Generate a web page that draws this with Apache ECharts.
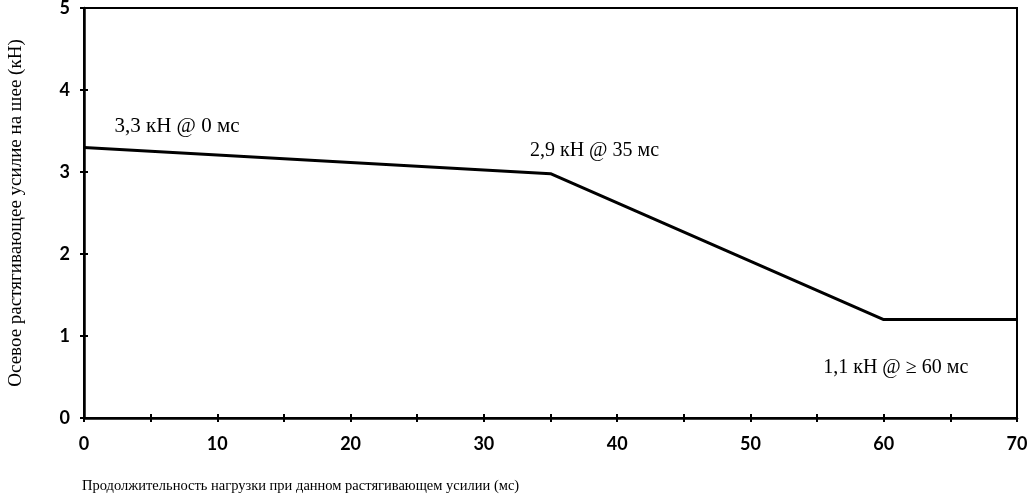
<!DOCTYPE html>
<html><head><meta charset="utf-8">
<script src="https://cdn.jsdelivr.net/npm/echarts@6/dist/echarts.min.js"></script>
<style>html,body{margin:0;padding:0;background:#fff}#c{width:1029px;height:498px}</style>
</head><body><div id="c"></div>
<script>
var timeMs = [0, 35, 60, 70];
var forceKN = [3.3, 2.98, 1.2, 1.2];
var xTicks = [0, 10, 20, 30, 40, 50, 60, 70];
var yTicks = [0, 1, 2, 3, 4, 5];
var notes = [
  {x: 0, y: 3.3, text: '3,3 кН @ 0 мс'},
  {x: 35, y: 2.98, text: '2,9 кН @ 35 мс'},
  {x: 60, y: 1.2, text: '1,1 кН @ ≥ 60 мс'}
];
var noteOffsets = [[93, -21], [44, -23], [12, 48]];

var chart = echarts.init(document.getElementById('c'));
var serif = 'Liberation Serif';
var tickFont = {fontFamily: 'Lato', fontWeight: 'bold', fontSize: 18, color: '#000'};
var data = timeMs.map(function (t, i) { return [t, forceKN[i]]; });

chart.setOption({
  animation: false,
  grid: {left: 84, right: 12, top: 8, bottom: 80, outerBoundsMode: 'none', containLabel: false, show: true, borderColor: '#000', borderWidth: 2, backgroundColor: 'transparent'},
  xAxis: [{
    type: 'value', min: 0, max: 70, interval: 5,
    axisLine: {lineStyle: {color: '#000', width: 2.5}},
    axisTick: {show: true, length: 4, lineStyle: {color: '#000', width: 2}},
    splitLine: {show: false},
    axisLabel: Object.assign({margin: 17, formatter: function (v) { return xTicks.indexOf(v) >= 0 ? String(v) : ''; }}, tickFont),
    name: 'Продолжительность нагрузки при данном растягивающем усилии (мс)',
    nameLocation: 'start',
    nameGap: 0,
    nameTextStyle: {fontFamily: serif, fontSize: 14.5, color: '#000', align: 'left', verticalAlign: 'top', padding: [61, 0, 0, -2]}
  }, {
    type: 'value', min: 0, max: 70, interval: 5, position: 'bottom',
    axisLine: {show: false},
    axisTick: {show: true, inside: true, length: 4, lineStyle: {color: '#000', width: 2}},
    axisLabel: {show: false}, splitLine: {show: false}
  }],
  yAxis: [{
    type: 'value', min: 0, max: 5, interval: 1,
    axisLine: {show: true, lineStyle: {color: '#000', width: 2.5}},
    axisTick: {show: true, length: 4, lineStyle: {color: '#000', width: 2}},
    splitLine: {show: false},
    axisLabel: Object.assign({margin: 14, formatter: function (v) { return yTicks.indexOf(v) >= 0 ? String(v) : ''; }}, tickFont),
    name: 'Осевое растягивающее усилие на шее (кН)',
    nameLocation: 'middle',
    nameGap: 58,
    nameTextStyle: {fontFamily: serif, fontSize: 19, color: '#000'}
  }, {
    type: 'value', min: 0, max: 5, interval: 1, position: 'left',
    axisLine: {show: false},
    axisTick: {show: true, inside: true, length: 4, lineStyle: {color: '#000', width: 2}},
    axisLabel: {show: false}, splitLine: {show: false}
  }],
  series: [{
    type: 'line',
    data: data,
    symbol: 'none',
    lineStyle: {color: '#000', width: 3},
    markPoint: {
      symbol: 'circle', symbolSize: 0,
      data: notes.map(function (n, i) {
        return {coord: [n.x, n.y], label: {show: true, formatter: n.text, offset: noteOffsets[i], position: 'inside', fontFamily: serif, fontSize: i === 0 ? 21 : 20, color: '#000'}};
      })
    }
  }]
});
</script></body></html>
